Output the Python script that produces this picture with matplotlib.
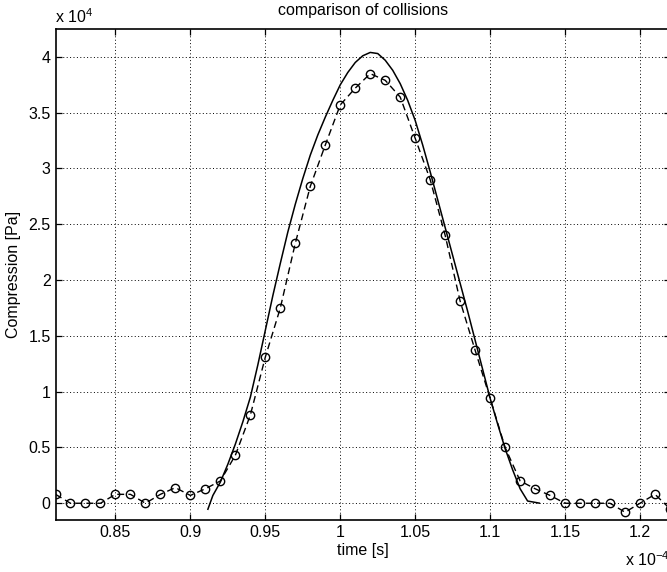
import matplotlib
matplotlib.use('Agg')
import matplotlib.pyplot as plt

plt.rcParams['font.family'] = ['Liberation Sans', 'DejaVu Sans']
plt.rcParams['mathtext.fontset'] = 'custom'
plt.rcParams['mathtext.rm'] = 'Liberation Sans'

# measured series: time in units of 1e-4 s, compression in units of 1e4 Pa
t_meas = [0.81, 0.82, 0.83, 0.84, 0.85, 0.86, 0.87, 0.88, 0.89, 0.90,
          0.91, 0.92, 0.93, 0.94, 0.95, 0.96, 0.97, 0.98, 0.99, 1.00,
          1.01, 1.02, 1.03, 1.04, 1.05, 1.06, 1.07, 1.08, 1.09, 1.10,
          1.11, 1.12, 1.13, 1.14, 1.15, 1.16, 1.17, 1.18, 1.19, 1.20,
          1.21, 1.22]
p_meas = [0.08, 0.00, 0.00, 0.00, 0.08, 0.08, 0.00, 0.08, 0.14, 0.07,
          0.13, 0.20, 0.43, 0.79, 1.31, 1.75, 2.33, 2.84, 3.21, 3.57,
          3.72, 3.85, 3.79, 3.64, 3.27, 2.90, 2.40, 1.81, 1.37, 0.94,
          0.50, 0.20, 0.13, 0.07, 0.00, 0.00, 0.00, 0.00, -0.08, 0.00,
          0.08, -0.05]

# simulated pulse (solid line)
t_sim = [0.9115, 0.915, 0.920, 0.925, 0.930, 0.935, 0.940, 0.945, 0.950,
         0.955, 0.960, 0.965, 0.970, 0.975, 0.980, 0.985, 0.990, 0.995,
         1.000, 1.005, 1.010, 1.015, 1.020, 1.025, 1.030, 1.035, 1.040,
         1.045, 1.050, 1.055, 1.060, 1.065, 1.070, 1.075, 1.080, 1.085,
         1.090, 1.095, 1.100, 1.105, 1.110, 1.115, 1.120, 1.125, 1.1333]
p_sim = [-0.06, 0.07, 0.19, 0.35, 0.53, 0.73, 0.95, 1.24, 1.55,
         1.86, 2.15, 2.43, 2.68, 2.91, 3.12, 3.30, 3.46, 3.61,
         3.75, 3.86, 3.95, 4.01, 4.04, 4.03, 3.97, 3.88, 3.76,
         3.61, 3.43, 3.21, 2.97, 2.72, 2.47, 2.22, 1.97, 1.72,
         1.46, 1.20, 0.94, 0.71, 0.49, 0.30, 0.13, 0.02, 0.00]

xticks = [0.85, 0.9, 0.95, 1.0, 1.05, 1.1, 1.15, 1.2]
xtick_labels = ['0.85', '0.9', '0.95', '1', '1.05', '1.1', '1.15', '1.2']
yticks = [0, 0.5, 1, 1.5, 2, 2.5, 3, 3.5, 4]
ytick_labels = ['0', '0.5', '1', '1.5', '2', '2.5', '3', '3.5', '4']

fs = 11.5

fig = plt.figure(figsize=(6.67, 5.72), dpi=100)
ax = fig.add_axes([55.5 / 667, 52 / 572, 614.5 / 667, 491 / 572])

ax.plot(t_sim, p_sim, color='k', linewidth=1.1, solid_capstyle='butt')
ax.plot(t_meas, p_meas, color='k', linestyle=(0, (5, 3)), linewidth=1.0,
        marker='o', markersize=6, markerfacecolor='none',
        markeredgecolor='k', markeredgewidth=1.0)

ax.set_xlim(0.81, 1.22)
ax.set_ylim(-0.15, 4.25)
ax.set_xticks(xticks)
ax.set_xticklabels(xtick_labels)
ax.set_yticks(yticks)
ax.set_yticklabels(ytick_labels)

ax.grid(True, color='k', linestyle=(0, (1, 2.5)), linewidth=0.7)
ax.tick_params(direction='in', top=True, right=True, length=4.3,
               width=0.9, labelsize=fs, pad=3.5)
for s in ax.spines.values():
    s.set_linewidth(1.2)

ax.set_title('comparison of collisions', fontsize=fs, pad=10)
ax.set_xlabel('time [s]', fontsize=fs, labelpad=2)
ax.set_ylabel('Compression [Pa]', fontsize=fs, labelpad=5)

# MATLAB style exponent labels
fig.text(55 / 667, 1 - 23 / 572, 'x 10$^{4}$', fontsize=fs, ha='left', va='baseline')
fig.text(625 / 667, 1 - 566 / 572, 'x 10$^{-4}$', fontsize=fs, ha='left', va='baseline')

fig.savefig('out.png', dpi=100)
